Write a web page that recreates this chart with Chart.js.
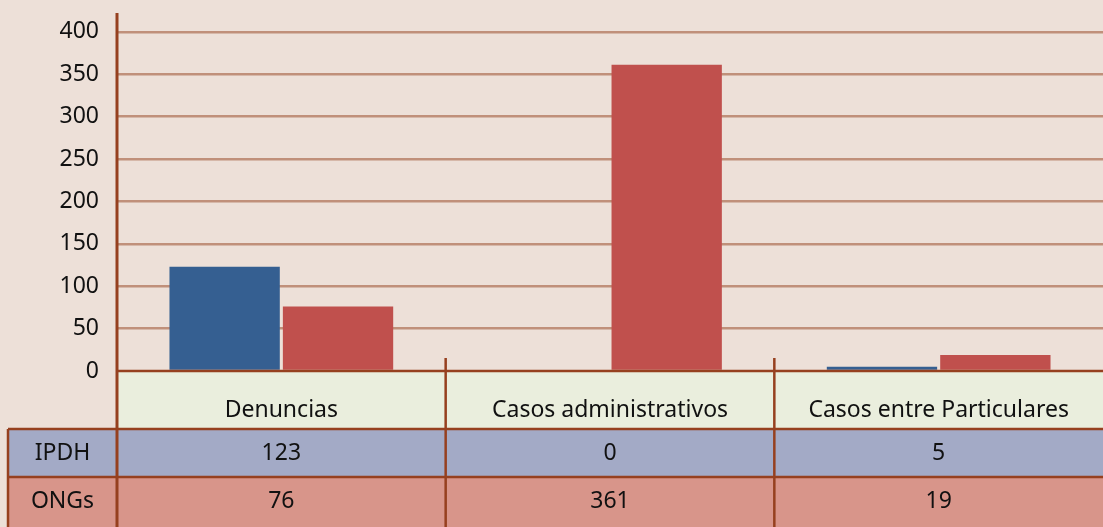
<!DOCTYPE html>
<html>
<head>
<meta charset="utf-8">
<script src="https://cdn.jsdelivr.net/npm/chart.js@4/dist/chart.umd.min.js"></script>
<style>
  html, body { margin: 0; padding: 0; background: #ede0d8; }
  #wrap { width: 1103px; height: 527px; position: relative; }
</style>
</head>
<body>
<div id="wrap"><canvas id="c"></canvas></div>
<script>
// data
const categories = ['Denuncias', 'Casos administrativos', 'Casos entre Particulares'];
const seriesNames = ['IPDH', 'ONGs'];
const ipdhValues = [123, 0, 5];
const ongsValues = [76, 361, 19];
const yMax = 400;
const yStep = 50;

const FONT = '"Noto Sans", sans-serif';
const FONT_SIZE = 23;
const BORDER = '#96401f';
const rowColors = ['#a3aac6', '#d8958a'];

// table under the plot, drawn from the x scale
const dataTable = {
  id: 'dataTable',
  afterDraw(chart) {
    const { ctx, chartArea, scales } = chart;
    const x = scales.x;
    const top = chartArea.bottom;
    const catRowBottom = top + 58;
    const rowH = 48;
    const left = chartArea.left;
    const right = chartArea.right;
    const labelLeft = 8;
    const H = chart.height;
    ctx.save();

    // category row
    ctx.fillStyle = '#eaeedd';
    ctx.fillRect(left, top, right - left, catRowBottom - top);
    // series rows
    chart.data.datasets.forEach((ds, r) => {
      const y0 = catRowBottom + r * rowH;
      ctx.fillStyle = rowColors[r];
      ctx.fillRect(labelLeft, y0, right - labelLeft, r === 1 ? H - y0 : rowH);
    });

    ctx.font = FONT_SIZE + 'px ' + FONT;
    ctx.fillStyle = '#111';
    ctx.textAlign = 'center';
    ctx.textBaseline = 'middle';
    const half = (x.getPixelForValue(1) - x.getPixelForValue(0)) / 2;
    categories.forEach((c, i) => {
      const cx = x.getPixelForValue(i);
      ctx.fillText(c, cx, top + 39);
      chart.data.datasets.forEach((ds, r) => {
        ctx.fillText(String(ds.data[i]), cx, catRowBottom + r * rowH + rowH / 2);
      });
    });
    chart.data.datasets.forEach((ds, r) => {
      ctx.fillText(ds.label, (labelLeft + left) / 2, catRowBottom + r * rowH + rowH / 2);
    });

    // lines
    ctx.strokeStyle = BORDER;
    ctx.lineWidth = 2.5;
    ctx.beginPath();
    ctx.moveTo(left, top); ctx.lineTo(right, top);
    for (let r = 0; r < 2; r++) {
      const y = catRowBottom + r * rowH;
      ctx.moveTo(labelLeft, y); ctx.lineTo(right, y);
    }
    ctx.moveTo(labelLeft, catRowBottom); ctx.lineTo(labelLeft, H);
    for (let i = 1; i < categories.length; i++) {
      const bx = x.getPixelForValue(i) - half;
      ctx.moveTo(bx, top - 13); ctx.lineTo(bx, H);
    }
    ctx.stroke();

    // value axis line
    ctx.lineWidth = 3;
    ctx.beginPath();
    ctx.moveTo(left, 13); ctx.lineTo(left, H);
    ctx.stroke();
    ctx.restore();
  }
};

const data = {
  labels: categories,
  datasets: [
    { label: seriesNames[0], data: ipdhValues, backgroundColor: '#355f91' },
    { label: seriesNames[1], data: ongsValues, backgroundColor: '#c0504d' },
  ],
};

const config = {
  type: 'bar',
  data,
  options: {
    responsive: true,
    maintainAspectRatio: false,
    animation: false,
    layout: { padding: { top: 27, right: 0, bottom: 156, left: 0 } },
    datasets: { bar: { categoryPercentage: 0.69, barPercentage: 0.973 } },
    plugins: { legend: { display: false }, tooltip: { enabled: false } },
    scales: {
      x: {
        ticks: { display: false },
        grid: { display: false, drawTicks: false },
        border: { display: false },
        afterFit: s => { s.height = 0; },
      },
      y: {
        min: 0,
        max: yMax,
        ticks: { stepSize: yStep, padding: 18, color: '#111', font: { family: FONT, size: FONT_SIZE } },
        grid: { color: '#c0907a', lineWidth: 2.5, drawTicks: false },
        border: { display: false },
        afterFit: s => { s.width = 117; },
      },
    },
  },
  plugins: [dataTable],
};

new Chart(document.getElementById('c'), config);
</script>
</body>
</html>
